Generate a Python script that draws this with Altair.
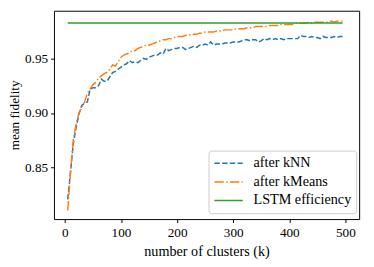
import altair as alt
import pandas as pd

k_vals = list(range(5, 500, 5))

knn = [0.821, 0.846, 0.872, 0.887, 0.899, 0.907, 0.909, 0.910, 0.922, 0.923,
       0.923, 0.925, 0.931, 0.929, 0.929, 0.933, 0.937, 0.938, 0.940, 0.942,
       0.944, 0.945, 0.948, 0.946, 0.947, 0.946, 0.948, 0.950, 0.949, 0.951,
       0.952, 0.953, 0.953, 0.955, 0.954, 0.959, 0.957, 0.958, 0.959, 0.959,
       0.960, 0.960, 0.958, 0.959, 0.960, 0.961, 0.960, 0.962, 0.962, 0.963,
       0.962, 0.965, 0.962, 0.963, 0.963, 0.963, 0.964, 0.964, 0.964, 0.965,
       0.965, 0.965, 0.966, 0.967, 0.967, 0.966, 0.967, 0.967, 0.965, 0.966,
       0.968, 0.967, 0.968, 0.967, 0.968, 0.967, 0.968, 0.967, 0.968, 0.968,
       0.968, 0.968, 0.968, 0.971, 0.970, 0.970, 0.969, 0.970, 0.969, 0.969,
       0.968, 0.970, 0.969, 0.969, 0.969, 0.970, 0.969, 0.970, 0.970]

kmeans = [0.811, 0.846, 0.876, 0.890, 0.900, 0.905, 0.910, 0.918, 0.922, 0.926,
          0.928, 0.932, 0.934, 0.936, 0.937, 0.940, 0.944, 0.943, 0.947, 0.951,
          0.953, 0.954, 0.955, 0.957, 0.957, 0.959, 0.960, 0.961, 0.962, 0.962,
          0.963, 0.964, 0.965, 0.966, 0.967, 0.967, 0.968, 0.968, 0.969, 0.970,
          0.970, 0.970, 0.971, 0.971, 0.972, 0.972, 0.972, 0.973, 0.973, 0.974,
          0.974, 0.974, 0.974, 0.975, 0.975, 0.975, 0.976, 0.976, 0.976, 0.976,
          0.977, 0.977, 0.977, 0.977, 0.978, 0.978, 0.978, 0.979, 0.979, 0.979,
          0.979, 0.979, 0.980, 0.980, 0.980, 0.980, 0.981, 0.981, 0.981, 0.981,
          0.981, 0.982, 0.982, 0.982, 0.982, 0.982, 0.983, 0.982, 0.983, 0.983,
          0.983, 0.983, 0.983, 0.983, 0.984, 0.983, 0.984, 0.984, 0.984]

lstm_k = [5, 495]
lstm_val = [0.9823, 0.9823]

series_names = ["after kNN", "after kMeans", "LSTM efficiency"]
series_colors = ["#1f77b4", "#ff7f0e", "#2ca02c"]
series_dash = [[5.5, 2.4], [9.6, 2.4, 1.5, 2.4], [1, 0]]

rows = []
for k, v in zip(k_vals, knn):
    rows.append({"k": k, "v": v, "s": series_names[0]})
for k, v in zip(k_vals, kmeans):
    rows.append({"k": k, "v": v, "s": series_names[1]})
for k, v in zip(lstm_k, lstm_val):
    rows.append({"k": k, "v": v, "s": series_names[2]})
df = pd.DataFrame(rows)

FONT = "Liberation Serif"

chart = alt.Chart(df).mark_line(strokeWidth=1.5).encode(
    x=alt.X("k:Q", scale=alt.Scale(domain=[-19.5, 524.5], nice=False, zero=False),
            axis=alt.Axis(title="number of clusters (k)", values=[0, 100, 200, 300, 400, 500],
                          grid=False, tickSize=3.5, tickColor="black", domain=False,
                          labelPadding=3, titlePadding=6, titleFontSize=14.5)),
    y=alt.Y("v:Q", scale=alt.Scale(domain=[0.803, 0.9935], nice=False, zero=False),
            axis=alt.Axis(title="mean fidelity", values=[0.85, 0.90, 0.95], format=".2f",
                          grid=False, tickSize=3.5, tickColor="black", domain=False,
                          labelPadding=3, titlePadding=3, titleFontSize=13.5)),
    color=alt.Color("s:N", scale=alt.Scale(domain=series_names, range=series_colors),
                    legend=alt.Legend(title=None, orient="none", legendX=158, legendY=143,
                                      symbolType="stroke", symbolSize=841, symbolStrokeWidth=1.5,
                                      clipHeight=16, symbolOffset=0, labelOffset=10,
                                      fillColor="white", strokeColor="#cccccc", cornerRadius=3,
                                      padding=5, rowPadding=3, labelFontSize=14.5, labelFont=FONT,
                                      labelColor="black")),
    strokeDash=alt.StrokeDash("s:N", scale=alt.Scale(domain=series_names, range=series_dash),
                              legend=None),
    detail="s:N",
).properties(
    width=312, height=213,
    autosize=alt.AutoSizeParams(type="none"),
    padding={"left": 47, "top": 0, "right": 7, "bottom": 38},
).configure_view(
    stroke="black", strokeWidth=1
).configure_axis(
    labelFont=FONT, titleFont=FONT, labelFontSize=13.5,
    labelColor="black", titleColor="black", titleFontWeight="normal"
)

chart.save("out.html", embed_options={"renderer": "svg", "actions": False})
